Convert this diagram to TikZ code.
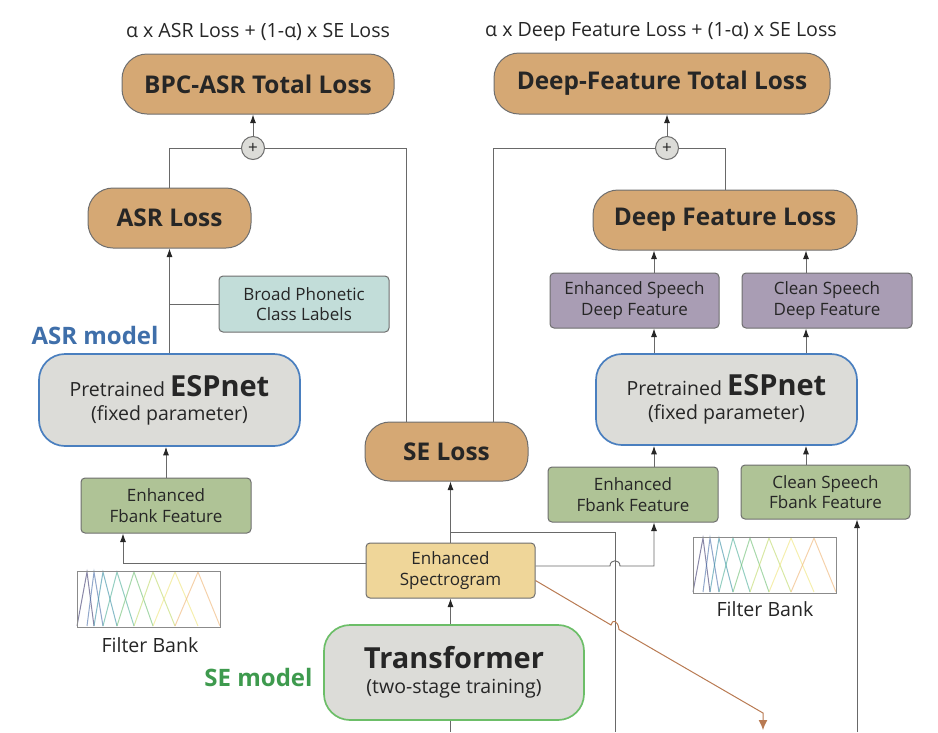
\documentclass[tikz,border=0pt]{standalone}
\usepackage{fontspec}
\setmainfont{Open Sans}
\usetikzlibrary{arrows.meta, positioning, calc}

\definecolor{losstan}{RGB}{213,168,116}
\definecolor{modelgray}{RGB}{220,220,216}
\definecolor{fbankgreen}{RGB}{175,195,150}
\definecolor{bpcteal}{RGB}{194,221,217}
\definecolor{deeppurple}{RGB}{169,157,180}
\definecolor{specyellow}{RGB}{239,214,153}
\definecolor{asrblue}{RGB}{74,127,191}
\definecolor{segreen}{RGB}{108,190,104}
\definecolor{edgegray}{RGB}{110,110,110}
\definecolor{linegray}{RGB}{105,105,105}
\definecolor{inkgray}{RGB}{38,38,38}
\definecolor{brownline}{RGB}{184,122,82}
\definecolor{asrtext}{RGB}{63,111,170}
\definecolor{setext}{RGB}{62,154,78}
% filter bank colours
\definecolor{fbA}{RGB}{73,70,120}
\definecolor{fbB}{RGB}{86,120,175}
\definecolor{fbC}{RGB}{70,150,170}
\definecolor{fbD}{RGB}{90,180,160}
\definecolor{fbE}{RGB}{120,195,125}
\definecolor{fbF}{RGB}{195,220,115}
\definecolor{fbG}{RGB}{240,230,130}
\definecolor{fbH}{RGB}{240,185,125}

\begin{document}
\begin{tikzpicture}[
    x=1pt, y=-1pt,
    >={Latex[length=8.5pt,width=6pt,color=inkgray]},
    lossbox/.style={rectangle, rounded corners=25pt, draw=edgegray, line width=1pt, fill=losstan, text=inkgray, inner sep=0pt, font=\fontsize{24.4}{28}\selectfont\bfseries},
    featbox/.style={rectangle, rounded corners=4pt, draw=edgegray, line width=1pt, text=inkgray, inner sep=0pt, align=center, minimum width=170pt, minimum height=55pt, font=\fontsize{17}{20.5}\selectfont},
    modelbox/.style={rectangle, rounded corners=26pt, fill=modelgray, line width=1.7pt, text=inkgray, inner sep=0pt, align=center, font=\fontsize{19.5}{24}\selectfont},
    plus/.style={circle, draw=edgegray, fill=modelgray, line width=1pt, minimum size=23pt, inner sep=0pt, text=inkgray, font=\fontsize{17}{17}\selectfont},
    notetext/.style={text=inkgray, inner sep=0pt, font=\fontsize{19.6}{23}\selectfont},
    modeltag/.style={inner sep=0pt, font=\fontsize{24}{28}\selectfont\bfseries},
    wire/.style={draw=linegray, line width=0.9pt},
    arrow/.style={->, wire},
    brownarrow/.style={-{Latex[length=10pt,width=9pt]}, draw=brownline, line width=1pt},
    fbcurve/.style={line width=1pt, opacity=0.65},
    fbframe/.style={draw=edgegray!80, line width=1pt}
]
\useasboundingbox (0,0) rectangle (938,732);

% LOSS PART
\node[notetext] (formulaL) at (258,32) {α x ASR Loss + (1-α) x SE Loss};
\node[notetext] (formulaR) at (661,32) {α x Deep Feature Loss + (1-α) x SE Loss};
\node[lossbox, minimum width=272pt, minimum height=60pt] (bpctotal) at (258,84) {BPC-ASR Total Loss};
\node[lossbox, minimum width=336pt, minimum height=61pt] (dftotal) at (662,83.5) {Deep-Feature Total Loss};
\node[plus] (plusL) at (253,148) {+};
\node[plus] (plusR) at (667,148) {+};
\node[lossbox, minimum width=163pt, minimum height=60pt] (asrloss) at (169.5,218) {ASR Loss};
\node[lossbox, minimum width=264pt, minimum height=60pt] (dfloss) at (725,220) {Deep Feature Loss};
\node[lossbox, minimum width=163pt, minimum height=59pt] (seloss) at (446.5,451.5) {SE Loss};

% FEATURES
\node[featbox, fill=bpcteal, minimum height=56pt] (bpclabel) at (304,304) {Broad Phonetic\\Class Labels};
\node[featbox, fill=deeppurple, minimum width=169pt] (enhdeep) at (634.5,300.5) {Enhanced Speech\\Deep Feature};
\node[featbox, fill=deeppurple] (cleandeep) at (827,300.5) {Clean Speech\\Deep Feature};
\node[featbox, fill=fbankgreen] (fbL) at (166,505.5) {Enhanced\\Fbank Feature};
\node[featbox, fill=fbankgreen] (fbR) at (633,494.5) {Enhanced\\Fbank Feature};
\node[featbox, fill=fbankgreen, minimum width=169pt, minimum height=54pt] (fbCl) at (825.5,492) {Clean Speech\\Fbank Feature};
\node[featbox, fill=specyellow, minimum width=169pt] (spec) at (450.5,570.5) {Enhanced\\Spectrogram};

% MODELS
\node[modelbox, draw=asrblue, minimum width=261pt, minimum height=92pt] (espL) at (169.5,400) {Pretrained {\fontsize{29}{30}\selectfont\bfseries ESPnet}\\(fixed parameter)};
\node[modelbox, draw=asrblue, minimum width=261pt, minimum height=91pt] (espR) at (726.5,399.5) {Pretrained {\fontsize{29}{30}\selectfont\bfseries ESPnet}\\(fixed parameter)};
\node[modelbox, draw=segreen, minimum width=260pt, minimum height=95pt, font=\fontsize{19.5}{25}\selectfont] (trans) at (454,672.5) {{\fontsize{29}{30}\selectfont\bfseries Transformer}\\(two-stage training)};
\node[modeltag, text=asrtext] (asrtag) at (95,335) {ASR model};
\node[modeltag, text=setext] (setag) at (258.5,677) {SE model};

% FILTER BANKS
\foreach \ox/\oy in {77/571, 693/537} {
  \begin{scope}[shift={(\ox,\oy)}]
    \foreach \a/\b/\c/\col in {0/10/17/fbA, 10/17/26/fbB, 17/26/40/fbC, 26/40/57/fbD, 40/57/76/fbE, 57/76/98/fbF, 76/98/121/fbG, 98/121/143/fbH}
      \draw[fbcurve, \col] (\a,55) -- (\b,1) -- (\c,55);
    \draw[fbframe] (0,0) rectangle (143,56);
  \end{scope}
}
\node[notetext] (fbtextL) at (150,645) {Filter Bank};
\node[notetext] (fbtextR) at (765,609) {Filter Bank};

% CONNECTORS
\coordinate (bottomline) at (0,732);
\coordinate (cleanin) at (857,732);
\coordinate (passdown) at (615,732);
\coordinate (brownend) at (763,730);
\coordinate (colA) at (654,0);
\coordinate (colB) at (806,0);
\coordinate (tap) at ($(spec.north)+(0,-10)$);

\draw[arrow] (plusL.north) -- (plusL.north |- bpctotal.south);
\draw[wire] (plusL.west) -| (asrloss.north);
\draw[wire] (plusL.east) -| ([xshift=-40.5pt]seloss.north);
\draw[arrow] (plusR.north) -- (plusR.north |- dftotal.south);
\draw[wire] (plusR.west) -| ([xshift=46.5pt]seloss.north);
\draw[wire] (plusR.east) -| (dfloss.north);

\draw[arrow] (espL.north) -- (asrloss.south);
\draw[wire] (bpclabel.west) -- (bpclabel.west -| espL.north);
\draw[arrow] (fbL.north) -- (fbL.north |- espL.south);
\draw[arrow] ([yshift=7pt]spec.west) -| ([xshift=-43pt]fbL.south);

\draw[arrow] (spec.north) -- (spec.north |- seloss.south);
\draw[wire] (tap) -| (passdown);
\draw[arrow] (spec.south |- trans.north) -- (spec.south);
\draw[wire] (spec.south |- trans.south) -- (spec.south |- bottomline);
\draw[arrow] ([yshift=4.5pt]spec.east) -- (610,566) .. controls (610,559) and (620,559) .. (620,566) -| (colA |- fbR.south);
\draw[brownarrow] ([yshift=-10pt]spec.east) -- (611,625) .. controls (612,619) and (618,620) .. (619,629.5) -- (763,713) -- (brownend);

\draw[arrow] (colA |- fbR.north) -- (colA |- espR.south);
\draw[arrow] (colB |- fbCl.north) -- (colB |- espR.south);
\draw[arrow] (cleanin) -- ([xshift=31.5pt]fbCl.south);
\draw[arrow] (colA |- espR.north) -- (colA |- enhdeep.south);
\draw[arrow] (colB |- espR.north) -- (colB |- cleandeep.south);
\draw[arrow] (colA |- enhdeep.north) -- (colA |- dfloss.south);
\draw[arrow] (colB |- cleandeep.north) -- (colB |- dfloss.south);

\end{tikzpicture}
\end{document}
